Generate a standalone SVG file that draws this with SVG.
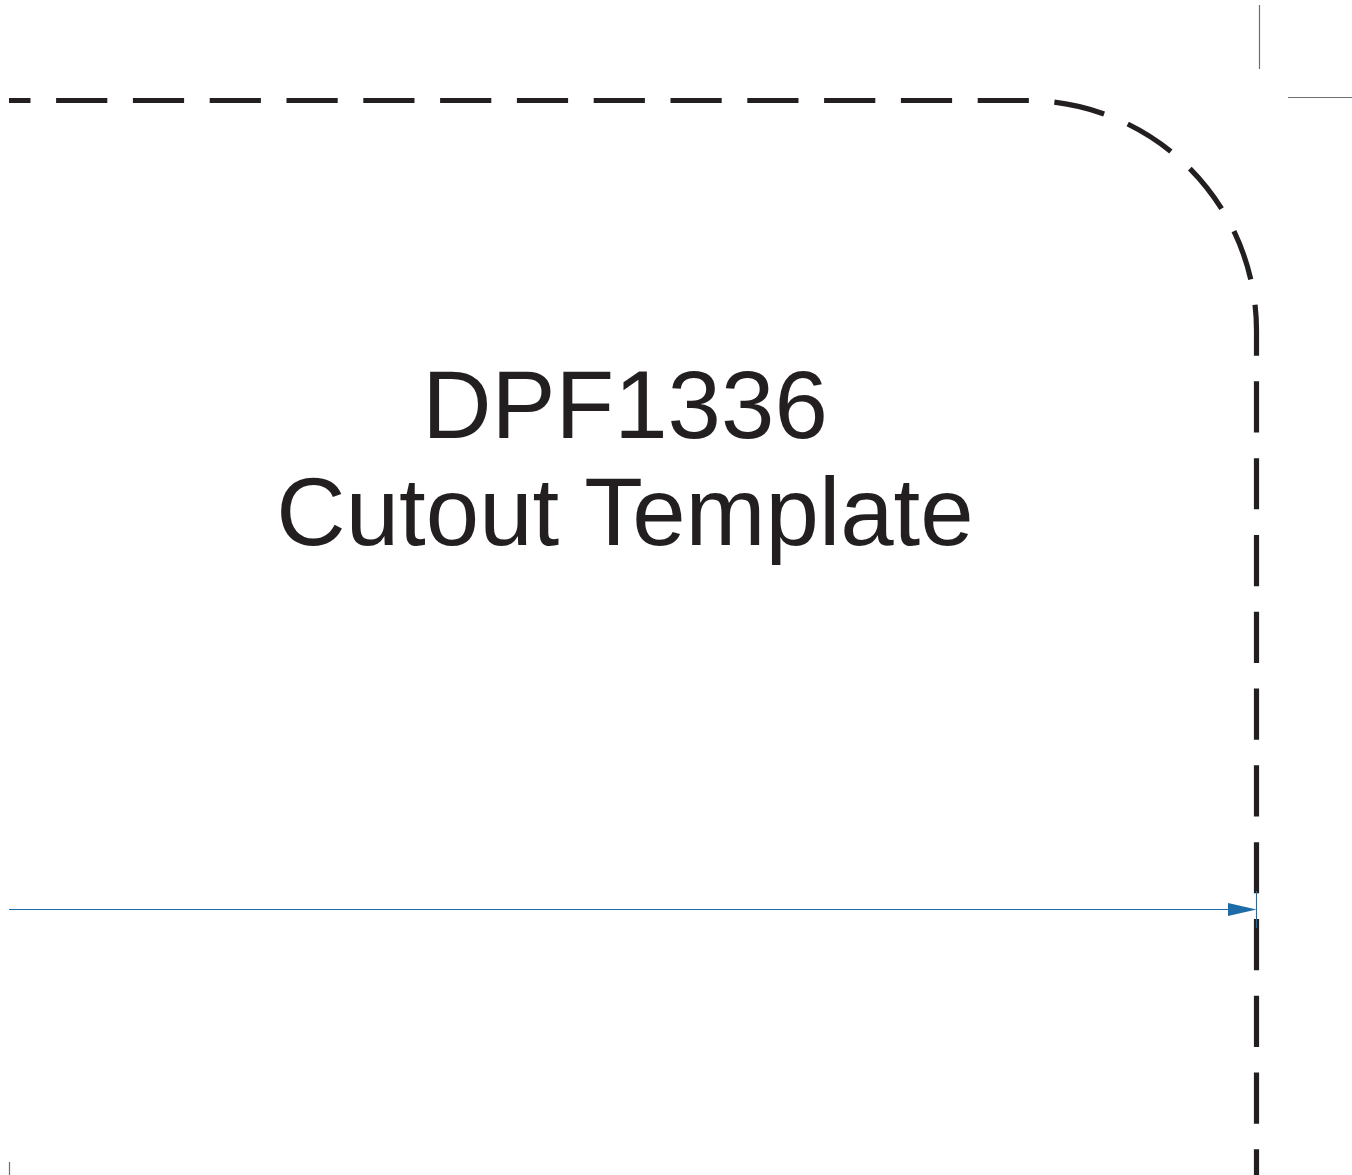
<svg xmlns="http://www.w3.org/2000/svg" width="1352" height="1175" viewBox="0 0 1352 1175">
<style>
.t{font-family:"Liberation Sans",Arial,sans-serif;font-size:96px;fill:#231f20;text-anchor:middle}
.crop{stroke:#6d6e71;stroke-width:1.2;fill:none}
.blue{stroke:#1b6ca8;stroke-width:1.1;fill:none}
</style>
<rect width="1352" height="1175" fill="#fff"/>
<g id="outline"><path d="M9 100.500H1026.500A230 230 0 0 1 1256.500 330.500V1175" fill="none" stroke="#231f20" stroke-width="5.200" stroke-dasharray="51.2 25.6" stroke-dashoffset="29.7"/></g>
<g id="crop-marks"><path class="crop" d="M1259.500 5V69M1288 97.500H1352M9.500 1162V1175"/></g>
<g id="connectors"><path class="blue" d="M9 909.500H1230M1256.500 891V928"/><path d="M1228 903L1256.500 909.500L1228 916Z" fill="#1b6ca8"/></g>
<g id="title"><text class="t" x="625" y="437.500">DPF1336</text><text class="t" x="625" y="545">Cutout Template</text></g>
</svg>
